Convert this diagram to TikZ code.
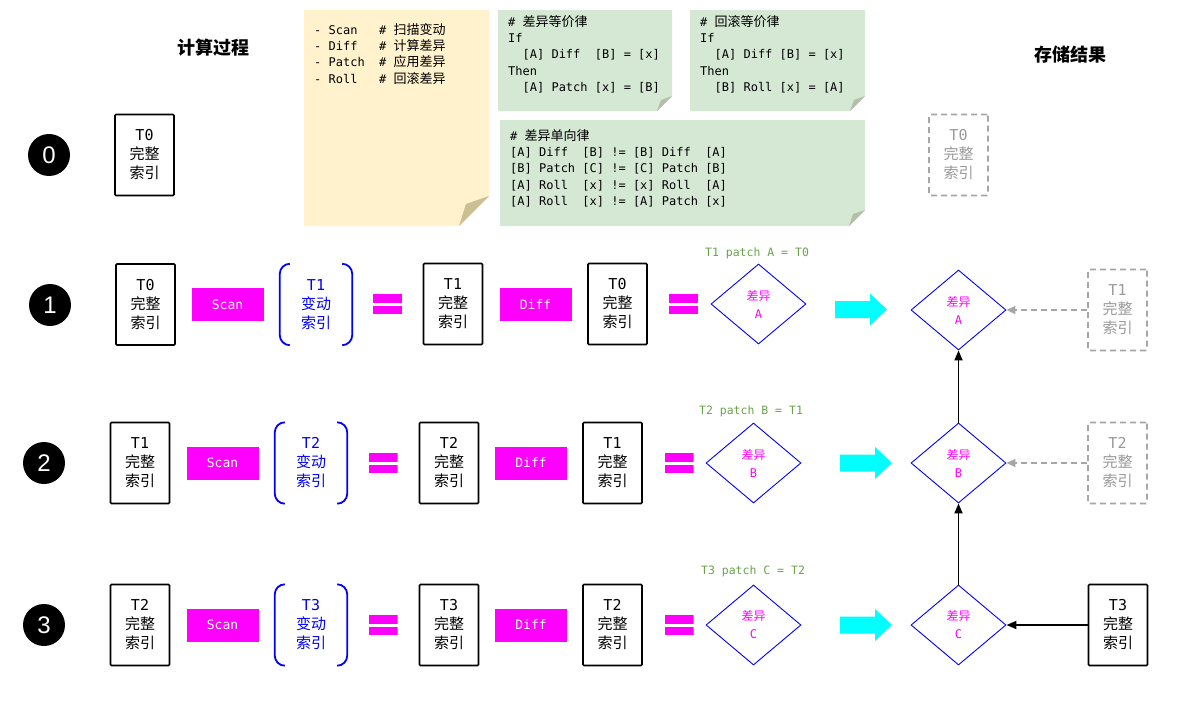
\documentclass[tikz,border=0pt]{standalone}
\usepackage{fontspec}
\setmonofont{DejaVu Sans Mono}
\newfontfamily\cjk{Noto Sans CJK SC}
\newfontfamily\numfont{Liberation Sans}
\usetikzlibrary{shapes.geometric,arrows.meta}
\definecolor{mag}{RGB}{255,0,255}
\definecolor{cyn}{RGB}{0,255,255}
\definecolor{blu}{RGB}{0,0,255}
\definecolor{lbl}{RGB}{106,163,74}
\definecolor{yel}{RGB}{255,242,204}
\definecolor{yelf}{RGB}{201,192,150}
\definecolor{grn}{RGB}{213,232,212}
\definecolor{grnf}{RGB}{180,190,168}
\definecolor{gbx}{RGB}{166,166,166}
\definecolor{gtx}{RGB}{153,153,153}
\newcommand\C[1]{{\cjk #1}}
\newcommand\K[1]{{\cjk\fontsize{13}{16.4}\selectfont #1}}
\newcommand\cyarr[2]{\fill[cyn] (#1,#2-8.5) -- (#1+35,#2-8.5) -- (#1+35,#2-16) -- (#1+52,#2) -- (#1+35,#2+16) -- (#1+35,#2+8.5) -- (#1,#2+8.5) -- cycle;}
\begin{document}
\begin{tikzpicture}[x=1pt,y=-1pt,
  idx/.style={draw=black, line width=1.6pt, fill=white, rounded corners=1pt, minimum width=59pt, minimum height=81pt, inner sep=0pt, align=center, font=\ttfamily\fontsize{15}{19}\selectfont},
  ghost/.style={idx, draw=gbx, text=gtx, dash pattern=on 6pt off 4pt},
  num/.style={circle, fill=black, minimum size=42pt, inner sep=0pt, text=white, font=\numfont\fontsize{24}{24}\selectfont},
  op/.style={fill=mag, minimum width=72pt, minimum height=33pt, inner sep=0pt, text=white, font=\ttfamily\fontsize{13}{13}\selectfont},
  chg/.style={minimum width=72pt, minimum height=81pt, inner sep=0pt, align=center, text=blu, font=\ttfamily\fontsize{15}{19}\selectfont},
  brk/.style={blu, line width=1.8pt, rounded corners=10pt},
  dif/.style={diamond, draw=blu, line width=0.9pt, minimum width=95pt, minimum height=80pt, inner sep=0pt, align=center, text=mag, font=\ttfamily\fontsize{12}{18}\selectfont},
  eqs/.style={minimum width=29pt, minimum height=20pt, inner sep=0pt, path picture={\fill[mag] (path picture bounding box.north west) rectangle ([yshift=-8.5pt]path picture bounding box.north east); \fill[mag] ([yshift=8pt]path picture bounding box.south west) rectangle (path picture bounding box.south east);}},
  lab/.style={text=lbl, inner sep=0pt, font=\ttfamily\fontsize{11.5}{12}\selectfont},
  code/.style={anchor=north west, inner sep=0pt, align=left, font=\ttfamily\fontsize{12}{16.4}\selectfont},
  ttl/.style={inner sep=0pt, font=\cjk\bfseries\fontsize{18}{18}\selectfont},
  arr/.style={line width=1.8pt, -{Triangle[length=10pt,width=8pt]}},
  garr/.style={draw=gbx, line width=1.6pt, dash pattern=on 6pt off 4pt, -{Triangle[length=9pt,width=8pt]}}
]
\useasboundingbox (0,0) rectangle (1200,720);
\fill[white] (0,0) rectangle (1200,720);

% notes
\fill[yel] (304,10) -- (489,10) -- (489,196) -- (459,226) -- (304,226) -- cycle;
\fill[yelf] (489,196) -- (459,226) -- (466,204) -- cycle;
\fill[grn] (498,10) -- (672,10) -- (672,96) -- (657,111) -- (498,111) -- cycle;
\fill[grnf] (672,96) -- (657,111) -- (661,100) -- cycle;
\fill[grn] (690,10) -- (865,10) -- (865,96) -- (850,111) -- (690,111) -- cycle;
\fill[grnf] (865,96) -- (850,111) -- (854,100) -- cycle;
\fill[grn] (500,120) -- (865,120) -- (865,210) -- (849,226) -- (500,226) -- cycle;
\fill[grnf] (865,210) -- (849,226) -- (853,214) -- cycle;

\node[code] (ny) at (314,22.9) {\rule{0pt}{10pt}-~Scan~~~\#~\K{扫描变动}\\-~Diff~~~\#~\K{计算差异}\\-~Patch~~\#~\K{应用差异}\\-~Roll~~~\#~\K{回滚差异}};
\node[code] (ng1) at (508,14.9) {\rule{0pt}{10pt}\#~\K{差异等价律}\\If\\\hphantom{xx}[A]~Diff~~[B]~=~[x]\\Then\\\hphantom{xx}[A]~Patch~[x]~=~[B]};
\node[code] (ng2) at (700,14.9) {\rule{0pt}{10pt}\#~\K{回滚等价律}\\If\\\hphantom{xx}[A]~Diff~[B]~=~[x]\\Then\\\hphantom{xx}[B]~Roll~[x]~=~[A]};
\node[code] (ng3) at (510,128.9) {\rule{0pt}{10pt}\#~\K{差异单向律}\\{}[A]~Diff~~[B]~!=~[B]~Diff~~[A]\\{}[B]~Patch~[C]~!=~[C]~Patch~[B]\\{}[A]~Roll~~[x]~!=~[x]~Roll~~[A]\\{}[A]~Roll~~[x]~!=~[A]~Patch~[x]};

% titles
\node[ttl] (t1) at (213,48) {计算过程};
\node[ttl] (t2) at (1070,55) {存储结果};

% row 0
\node[num] (n0) at (49,155) {0};
\node[idx] (b00) at (144.5,155) {T0\\\C{完整}\\\C{索引}};
\node[ghost] (g0) at (958.5,155) {T0\\\C{完整}\\\C{索引}};

% row 1
\node[num] (n1) at (50,305) {1};
\node[idx] (b10) at (145.5,304.5) {T0\\\C{完整}\\\C{索引}};
\node[op] (s1) at (227.5,304.5) {Scan};
\node[chg] (c1) at (316,304.5) {T1\\\C{变动}\\\C{索引}};
\node[eqs] (e1) at (387.5,304) {};
\node[idx] (b11) at (453,304) {T1\\\C{完整}\\\C{索引}};
\node[op] (d1) at (535.5,304.5) {Diff};
\node[idx] (b12) at (617.5,304) {T0\\\C{完整}\\\C{索引}};
\node[eqs] (f1) at (683.5,304) {};
\node[dif] (dA) at (758.5,304) {\C{差异}\\A};
\node[lab] (l1) at (757,253) {T1 patch A = T0};
\cyarr{835}{309.5}
\node[dif] (rA) at (958.5,310) {\C{差异}\\A};
\node[ghost] (g1) at (1117.5,310) {T1\\\C{完整}\\\C{索引}};

% row 2
\node[num] (n2) at (44,463) {2};
\node[idx] (b20) at (140,463) {T1\\\C{完整}\\\C{索引}};
\node[op] (s2) at (222.5,463) {Scan};
\node[chg] (c2) at (311,463) {T2\\\C{变动}\\\C{索引}};
\node[eqs] (e2) at (383,463) {};
\node[idx] (b21) at (449,463) {T2\\\C{完整}\\\C{索引}};
\node[op] (d2) at (531,463) {Diff};
\node[idx] (b22) at (612.5,463) {T1\\\C{完整}\\\C{索引}};
\node[eqs] (f2) at (679,463) {};
\node[dif] (dB) at (753.5,463) {\C{差异}\\B};
\node[lab] (l2) at (751,411) {T2 patch B = T1};
\cyarr{840}{463}
\node[dif] (rB) at (958.5,463) {\C{差异}\\B};
\node[ghost] (g2) at (1117.5,463) {T2\\\C{完整}\\\C{索引}};

% row 3
\node[num] (n3) at (44,625) {3};
\node[idx] (b30) at (140,625) {T2\\\C{完整}\\\C{索引}};
\node[op] (s3) at (222.5,625) {Scan};
\node[chg] (c3) at (311,625) {T3\\\C{变动}\\\C{索引}};
\node[eqs] (e3) at (383,625) {};
\node[idx] (b31) at (449,625) {T3\\\C{完整}\\\C{索引}};
\node[op] (d3) at (531,625) {Diff};
\node[idx] (b32) at (612.5,625) {T2\\\C{完整}\\\C{索引}};
\node[eqs] (f3) at (679,625) {};
\node[dif] (dC) at (753.5,625) {\C{差异}\\C};
\node[lab] (l3) at (753,571) {T3 patch C = T2};
\cyarr{840}{625}
\node[dif] (rC) at (958.5,625) {\C{差异}\\C};
\node[idx] (b33) at (1118,625) {T3\\\C{完整}\\\C{索引}};

% brackets
\foreach \c in {c1,c2,c3}{
  \draw[brk] ([xshift=10pt]\c.north west) -- (\c.north west) -- (\c.south west) -- ([xshift=10pt]\c.south west);
  \draw[brk] ([xshift=-10pt]\c.north east) -- (\c.north east) -- (\c.south east) -- ([xshift=-10pt]\c.south east);
}

% connectors
\draw[arr] (rC.north) -- (rB.south);
\draw[arr] (rB.north) -- (rA.south);
\draw[arr] (b33.west) -- (rC.east);
\draw[garr] (g1.west) -- (rA.east);
\draw[garr] (g2.west) -- (rB.east);
\end{tikzpicture}
\end{document}
